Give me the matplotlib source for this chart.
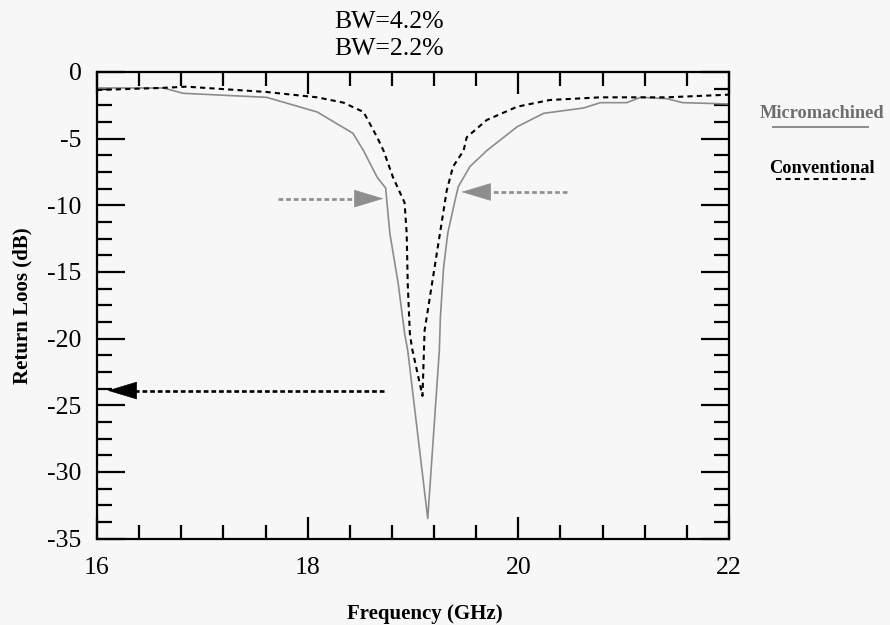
import matplotlib
matplotlib.use("Agg")
import matplotlib.pyplot as plt
from matplotlib.lines import Line2D
from matplotlib.ticker import MultipleLocator

# Serif look of the scanned figure, plain hyphen for negative ticks
plt.rcParams['font.family'] = ['Liberation Serif', 'DejaVu Serif']
plt.rcParams['axes.unicode_minus'] = False

# --- Data ---
# Micromachined antenna (solid grey)
micro_freq = [16.0, 16.63, 16.82, 17.61, 18.09, 18.43, 18.53, 18.66, 18.74, 18.78,
              18.86, 18.92, 18.95, 19.14, 19.25, 19.26, 19.29, 19.33, 19.40, 19.43,
              19.54, 19.70, 19.99, 20.24, 20.62, 20.78, 21.03, 21.16, 21.41, 21.56, 22.0]
micro_db = [-1.2, -1.2, -1.6, -1.9, -3.0, -4.6, -5.9, -7.9, -8.7, -12.1,
            -15.9, -19.6, -20.9, -33.5, -20.9, -18.4, -14.7, -12.1, -9.6, -8.6,
            -7.1, -5.9, -4.1, -3.1, -2.7, -2.3, -2.3, -1.9, -2.0, -2.3, -2.4]

# Conventional antenna (dotted black)
conv_freq = [16.0, 16.6, 16.85, 17.61, 18.09, 18.34, 18.53, 18.66, 18.72, 18.81,
             18.92, 18.94, 18.95, 18.97, 18.99, 19.09, 19.11, 19.13, 19.18, 19.23,
             19.28, 19.32, 19.38, 19.48, 19.51, 19.70, 19.99, 20.30, 20.78, 21.41, 22.0]
conv_db = [-1.35, -1.2, -1.1, -1.5, -1.9, -2.3, -3.0, -4.9, -5.9, -7.9,
           -9.8, -12.1, -15.9, -19.6, -20.7, -24.3, -19.4, -18.4, -15.9, -13.4,
           -10.9, -8.9, -7.1, -5.9, -4.9, -3.6, -2.6, -2.1, -1.9, -1.9, -1.7]

# Bandwidth arrows: (start freq, tip freq, level dB)
arrow_start = [17.72, 20.46, 18.72]
arrow_tip = [18.72, 19.46, 16.10]
arrow_db = [-9.5, -9.0, -23.9]
arrow_color = ['#8e8e8e', '#8e8e8e', 'black']

x_ticks = [16, 18, 20, 22]
y_ticks = [0, -5, -10, -15, -20, -25, -30, -35]
bw_labels = ['BW=4.2%', 'BW=2.2%']

GREY = '#8c8c8c'
HEAD_LEN = 0.26  # arrow head length in GHz


def draw_arrow(ax, x0, x1, y, color):
    # dashed shaft up to the base of the head, then a solid filled head
    step = HEAD_LEN if x1 < x0 else -HEAD_LEN
    base = x1 + step
    ax.plot([x0, base], [y, y], color=color, lw=1.9, linestyle=(0, (1.8, 1.1)),
            solid_capstyle='butt', dash_capstyle='butt')
    ax.annotate('', xy=(x1, y), xytext=(base, y),
                arrowprops=dict(arrowstyle='-|>,head_length=2.0,head_width=0.6',
                                mutation_scale=10, color=color, lw=0.5,
                                shrinkA=0, shrinkB=0))


def main():
    fig = plt.figure(figsize=(8.9, 6.25), dpi=100, facecolor='#f7f7f7')
    ax = fig.add_axes([0.109, 0.1384, 0.7101, 0.7464])
    ax.set_facecolor('none')

    # Return loss curves
    ax.plot(micro_freq, micro_db, color=GREY, lw=1.2)
    ax.plot(conv_freq, conv_db, color='black', lw=1.5, linestyle=(0, (2.5, 2)))

    # Dashed arrows marking the -10 dB points and the conventional dip
    for x0, x1, y, c in zip(arrow_start, arrow_tip, arrow_db, arrow_color):
        draw_arrow(ax, x0, x1, y, c)

    ax.set_xlim(16, 22)
    ax.set_ylim(-35, 0)
    ax.set_xticks(x_ticks)
    ax.set_yticks(y_ticks)
    ax.xaxis.set_minor_locator(MultipleLocator(0.4))
    ax.yaxis.set_minor_locator(MultipleLocator(1.25))

    ax.tick_params(which='both', direction='in', top=True, right=True,
                   width=1.6, labelsize=18.5, colors='black')
    ax.tick_params(axis='y', which='major', length=20, pad=11)
    ax.tick_params(axis='y', which='minor', length=11)
    ax.tick_params(axis='x', which='major', length=16, pad=13)
    ax.tick_params(axis='x', which='minor', length=10)
    for s in ax.spines.values():
        s.set_linewidth(1.6)

    ax.set_xlabel('Frequency (GHz)', fontsize=15, fontweight='bold')
    ax.set_ylabel('Return Loos (dB)', fontsize=15, fontweight='bold')
    ax.xaxis.set_label_coords(0.519, -0.14)
    ax.yaxis.set_label_coords(-0.102, 0.5)

    # Bandwidth notes above the plot
    fig.text(0.437, 0.965, bw_labels[0], fontsize=18.5, ha='center', va='center')
    fig.text(0.437, 0.922, bw_labels[1], fontsize=18.5, ha='center', va='center')

    # Hand-made legend to the right of the axes
    fig.text(0.924, 0.819, 'Micromachined', fontsize=13.2, fontweight='bold',
             color='#6e6e6e', ha='center', va='center')
    fig.add_artist(Line2D([0.869, 0.975], [0.797, 0.797], color=GREY, lw=1.4,
                          transform=fig.transFigure))
    fig.text(0.924, 0.731, 'Conventional', fontsize=13.2, fontweight='bold',
             ha='center', va='center')
    fig.add_artist(Line2D([0.872, 0.975], [0.713, 0.713], color='black', lw=1.5,
                          linestyle=(0, (2.5, 2)), transform=fig.transFigure))

    fig.savefig('out.png', dpi=100, facecolor=fig.get_facecolor())


if __name__ == "__main__":
    main()
